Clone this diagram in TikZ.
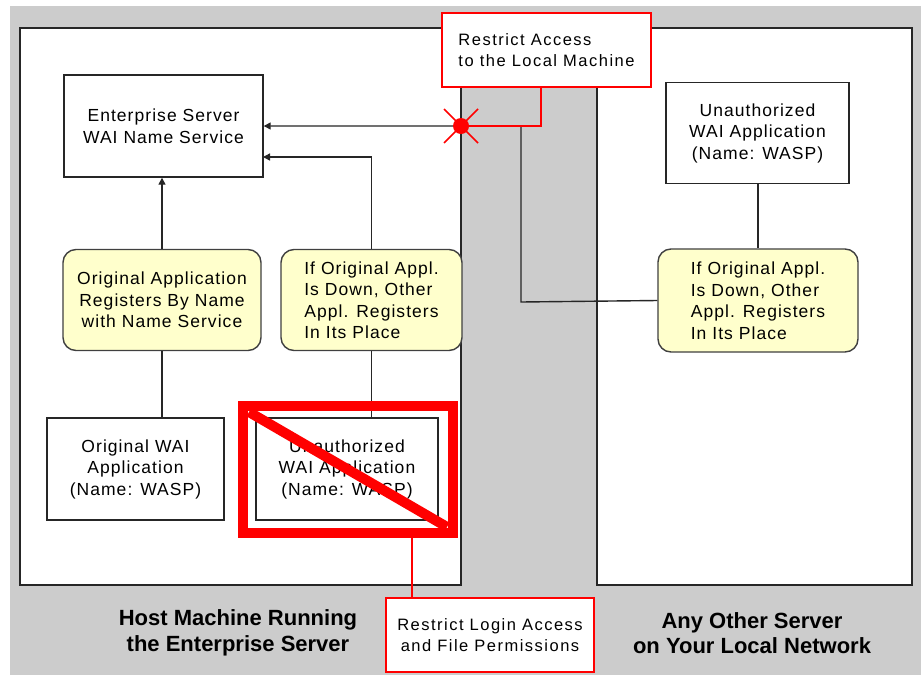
\documentclass[tikz,border=0pt]{standalone}
\usepackage{fontspec}
\setmainfont{Liberation Sans}
\newfontfamily\pixfont[LetterSpace=6]{Liberation Sans}
\newfontfamily\pixwide[LetterSpace=9]{Liberation Sans}
\usetikzlibrary{arrows.meta,calc}
\definecolor{bggray}{RGB}{204,204,204}
\definecolor{noteyellow}{RGB}{255,255,204}
\definecolor{pureRed}{RGB}{255,0,0}
\begin{document}
\begin{tikzpicture}[x=1pt,y=-1pt,
  txt/.style={font=\pixfont\fontsize{17.5}{21.5}\selectfont},
  plainbox/.style={txt,draw=black!85,line width=1.4pt,fill=white,inner sep=0pt,align=center},
  notebox/.style={txt,draw=black!75,line width=1.4pt,fill=noteyellow,rounded corners=13pt,inner sep=0pt,align=left},
  redbox/.style={font=\pixwide\fontsize{16.5}{21.5}\selectfont,draw=pureRed,line width=2.5pt,fill=white,inner sep=0pt,align=left},
  panel/.style={draw=black!85,line width=2pt,fill=white},
  conn/.style={draw=black!85,line width=1.4pt},
  arr/.style={conn,-{Triangle[length=7pt,width=7pt]}},
  redline/.style={draw=pureRed,line width=1.6pt},
  biglabel/.style={font=\fontsize{22}{25.5}\selectfont\bfseries,align=center}
]
\useasboundingbox (0,0) rectangle (921,675);
\fill[white] (0,0) rectangle (921,675);
\fill[bggray] (10,6) rectangle (921,675);
% panels
\draw[panel] (20,28) rectangle (461,585);
\draw[panel] (597,28) rectangle (912,585);
% boxes
\node[plainbox,minimum width=199pt,minimum height=102pt] (es) at (163.5,126) {Enterprise Server\\WAI Name Service};
\node[plainbox,minimum width=183pt,minimum height=101pt] (uwr) at (757.5,133) {Unauthorized\\WAI Application\\(Name: WASP)};
\node[notebox,minimum width=198pt,minimum height=101pt,align=center] (y1) at (162,300) {Original Application\\Registers By Name\\with Name Service};
\node[notebox,minimum width=181pt,minimum height=101pt] (y2) at (371.5,300) {If Original Appl.\\Is Down, Other\\Appl. Registers\\In Its Place};
\node[notebox,minimum width=200pt,minimum height=103pt] (y3) at (758,300.5) {If Original Appl.\\Is Down, Other\\Appl. Registers\\In Its Place};
\node[plainbox,minimum width=177pt,minimum height=102pt] (ow) at (135.5,469) {Original WAI\\Application\\(Name: WASP)};
\node[plainbox,minimum width=182pt,minimum height=102pt] (uwl) at (347,469) {Unauthorized\\WAI Application\\(Name: WASP)};
\node[redbox,minimum width=209pt,minimum height=74pt] (ra) at (546.5,50) {Restrict Access\\to the Local Machine};
\node[redbox,minimum width=208pt,minimum height=74pt,align=center] (rl) at (490,635) {Restrict Login Access\\and File Permissions};
% coordinates
\coordinate (cross) at (461,126);
\coordinate (jn) at (521,302);
\coordinate (a2) at (263,157);
\coordinate (rk) at (541,126);
% connectors
\draw[arr] (y3.west) -- (jn) -- (jn |- cross) -- (es.east |- cross);
\draw[arr] (y2.north) |- (a2);
\draw[arr] (y1.north) -- (es.south -| y1.north);
\draw[conn] (ow.north -| y1.south) -- (y1.south);
\draw[conn] (y2.south) -- (uwl.north -| y2.south);
\draw[conn] (uwr.south -| y3.north) -- (y3.north);
\draw[conn] (367,402) -- (375,402);
% red restrictions
\draw[redline] (ra.south -| rk) -- (rk) -- (cross);
\fill[pureRed] (cross) circle (8pt);
\draw[pureRed,line width=1.6pt] ($(cross)+(-17,-17)$) -- ($(cross)+(17,17)$);
\draw[pureRed,line width=1.6pt] ($(cross)+(17,-17)$) -- ($(cross)+(-17,17)$);
\draw[pureRed,line width=10pt] (243,406) rectangle (453,533);
\draw[pureRed,line width=10pt] (249,412) -- (447,527);
\coordinate (fb) at (412,538);
\draw[redline] (fb) -- (rl.north -| fb);
% labels
\node[biglabel] (l1) at (238,633) {Host Machine Running\\the Enterprise Server};
\node[biglabel] (l2) at (752,633) {Any Other Server\\on Your Local Network};
\end{tikzpicture}
\end{document}
